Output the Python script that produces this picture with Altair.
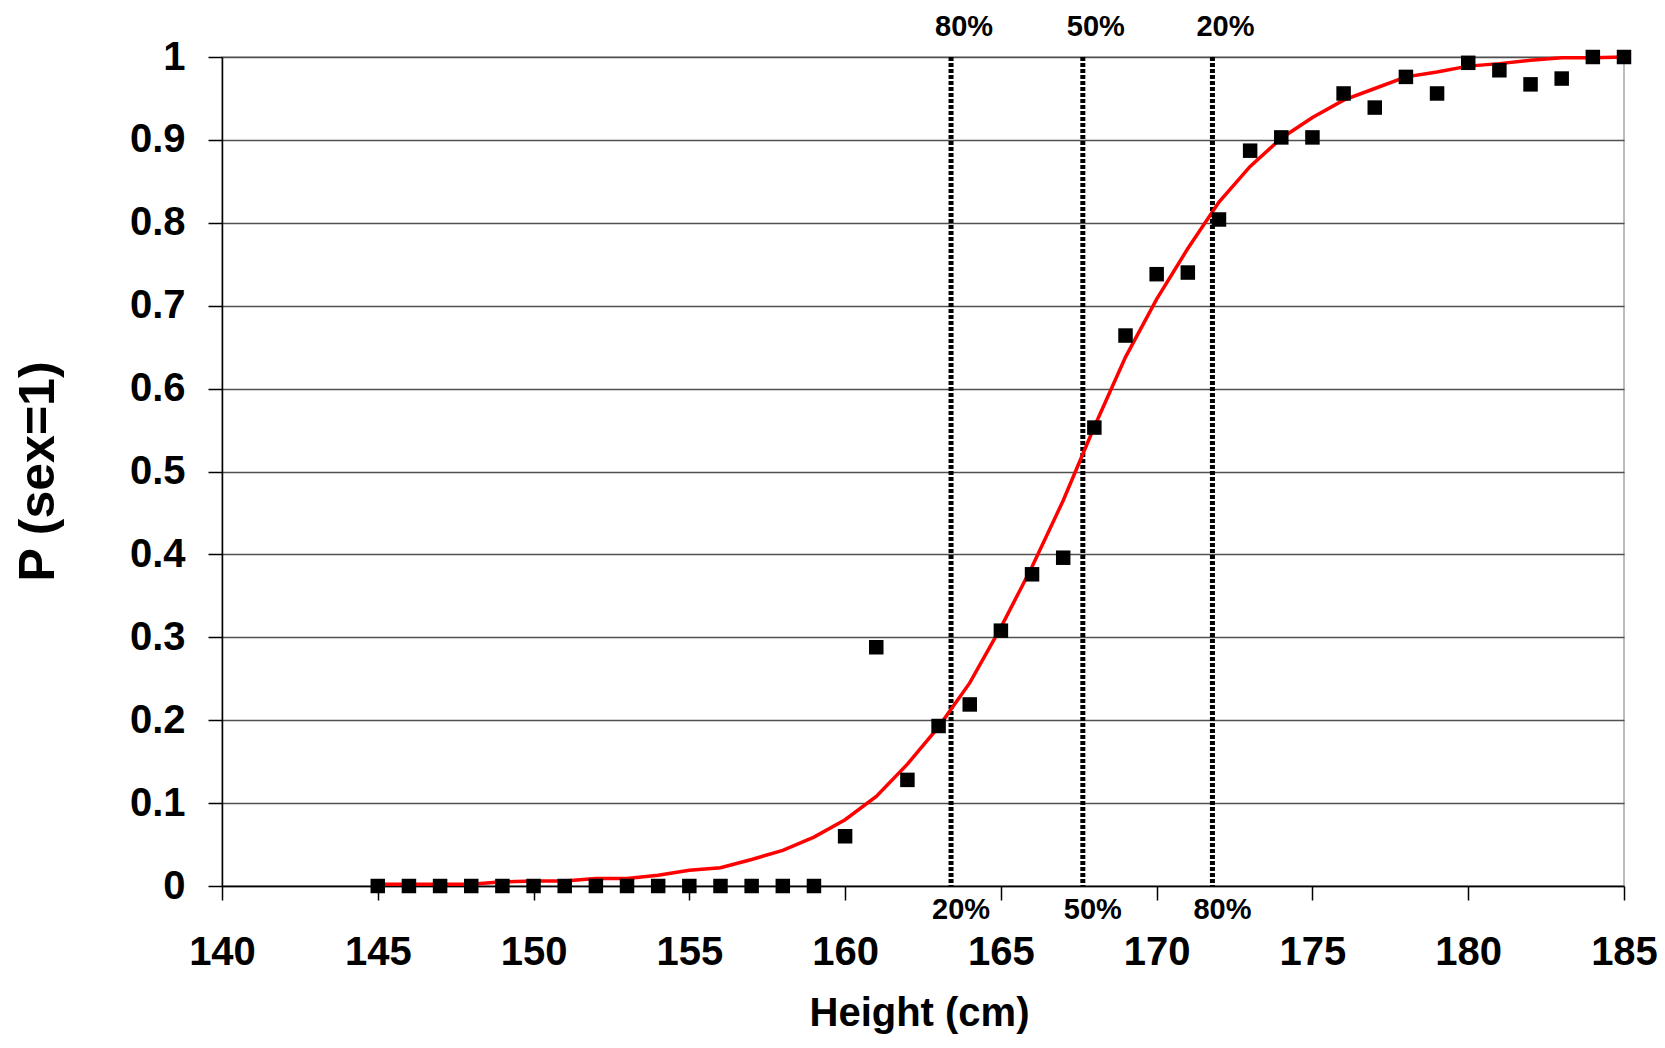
import altair as alt
import pandas as pd

heights = [145, 146, 147, 148, 149, 150, 151, 152, 153, 154, 155, 156, 157, 158, 159,
           160, 161, 162, 163, 164, 165, 166, 167, 168, 169, 170, 171, 172, 173, 174,
           175, 176, 177, 178, 179, 180, 181, 182, 183, 184, 185]
observed = [0, 0, 0, 0, 0, 0, 0, 0, 0, 0, 0, 0, 0, 0, 0,
            0.060, 0.288, 0.128, 0.193, 0.219, 0.308, 0.376, 0.396, 0.553, 0.664, 0.738,
            0.740, 0.804, 0.887, 0.903, 0.903, 0.956, 0.939, 0.976, 0.956, 0.993, 0.984,
            0.967, 0.974, 1.0, 1.0]
fitted = [0.002, 0.002, 0.002, 0.002, 0.005, 0.006, 0.006, 0.009, 0.009, 0.013, 0.019,
          0.022, 0.032, 0.043, 0.059, 0.080, 0.108, 0.147, 0.192, 0.245, 0.312, 0.385,
          0.465, 0.554, 0.638, 0.708, 0.769, 0.825, 0.868, 0.902, 0.927, 0.948, 0.962,
          0.976, 0.982, 0.989, 0.992, 0.996, 0.999, 0.999, 1.0]

cut_heights = [163.4, 167.63, 171.79]
top_labels = ["80%", "50%", "20%"]
bottom_labels = ["20%", "50%", "80%"]

x_ticks = [140, 145, 150, 155, 160, 165, 170, 175, 180, 185]
y_ticks = [0, 0.1, 0.2, 0.3, 0.4, 0.5, 0.6, 0.7, 0.8, 0.9, 1]

FONT = "Liberation Sans"
W, H = 1402, 829

df = pd.DataFrame({"h": heights, "obs": observed, "fit": fitted})
cuts = pd.DataFrame({"h": cut_heights, "top": top_labels, "bottom": bottom_labels})

xscale = alt.Scale(domain=[140, 185], nice=False, zero=False)
yscale = alt.Scale(domain=[0, 1], nice=False)

xaxis = alt.Axis(values=x_ticks, grid=False, title="Height (cm)", labelFont=FONT,
                 labelFontSize=40, labelFontWeight="bold", labelColor="black",
                 tickSize=14, tickColor="black", tickWidth=1.5, domainColor="black",
                 domainWidth=1.5, labelPadding=32, titleFont=FONT, titleFontSize=40,
                 titleFontWeight="bold", titleColor="black", titleX=697, titleY=139,
                 titleAlign="center", titleBaseline="alphabetic", labelFlush=False)
yaxis = alt.Axis(values=y_ticks, format="~g", grid=True, gridColor="#505050",
                 gridWidth=1.3, title="P (sex=1)", labelFont=FONT, labelFontSize=40,
                 labelFontWeight="bold", labelColor="black", tickSize=14,
                 tickColor="black", tickWidth=1.5, domainColor="black", domainWidth=1.5,
                 labelPadding=23, titleFont=FONT, titleFontSize=50, titleFontWeight="bold",
                 titleColor="black", titleX=-184, titleY=414, titleAngle=270,
                 titleAlign="center", titleBaseline="middle", labelFlush=False)

base = alt.Chart(df)

line = base.mark_line(color="#ff0000", strokeWidth=3.5).encode(
    x=alt.X("h:Q", scale=xscale, axis=xaxis),
    y=alt.Y("fit:Q", scale=yscale, axis=yaxis),
)

pts = base.mark_square(color="black", size=210, opacity=1).encode(
    x=alt.X("h:Q", scale=xscale),
    y=alt.Y("obs:Q", scale=yscale),
)

rules = alt.Chart(cuts).mark_rule(color="black", strokeWidth=5, strokeDash=[4, 2]).encode(
    x=alt.X("h:Q", scale=xscale),
    y=alt.value(0),
    y2=alt.value(H),
)

top_txt = alt.Chart(cuts).mark_text(font=FONT, fontSize=29, fontWeight="bold",
                                    color="black", dx=13, baseline="middle",
                                    align="center").encode(
    x=alt.X("h:Q", scale=xscale),
    y=alt.value(-30),
    text="top:N",
)

bot_txt = alt.Chart(cuts).mark_text(font=FONT, fontSize=29, fontWeight="bold",
                                    color="black", dx=10, baseline="middle",
                                    align="center").encode(
    x=alt.X("h:Q", scale=xscale),
    y=alt.value(H + 24),
    text="bottom:N",
)

chart = alt.layer(rules, line, pts, top_txt, bot_txt).properties(
    width=W, height=H,
    autosize=alt.AutoSizeParams(type="none"),
    padding={"left": 214, "top": 49, "right": 33, "bottom": 148},
).configure_view(stroke="#a8a8a8", strokeWidth=1.5)

chart.save("out.html", embed_options={"renderer": "svg", "actions": False})
